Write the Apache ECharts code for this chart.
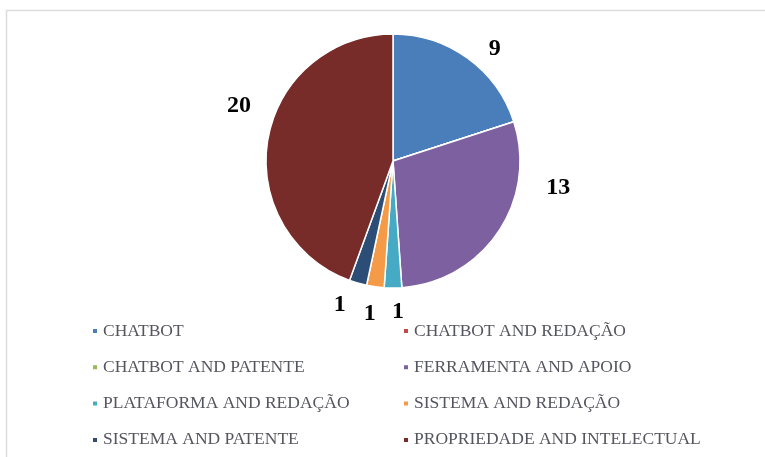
<!DOCTYPE html>
<html>
<head>
<meta charset="utf-8">
<script src="https://cdn.jsdelivr.net/npm/echarts@6/dist/echarts.min.js"></script>
<style>
html,body{margin:0;padding:0;background:#fff;}
#c{width:765px;height:457px;}
</style>
</head>
<body>
<div id="c"></div>
<script>
var categories = ['CHATBOT','CHATBOT AND REDAÇÃO','CHATBOT AND PATENTE','FERRAMENTA AND APOIO','PLATAFORMA AND REDAÇÃO','SISTEMA AND REDAÇÃO','SISTEMA AND PATENTE','PROPRIEDADE AND INTELECTUAL'];
var values = [9, 0, 0, 13, 1, 1, 1, 20];
var colors = ['#4A7EBB','#BE4B48','#98B954','#7D60A0','#46AAC5','#F59A46','#2C4D75','#772C2A'];
var legendLeft = [categories[0], categories[2], categories[4], categories[6]];
var legendRight = [categories[1], categories[3], categories[5], categories[7]];

var chart = echarts.init(document.getElementById('c'));
var data = categories.map(function(n, i){ return {name: n, value: values[i]}; });
var legendCommon = {
  orient: 'vertical', top: 317, height: 200, itemWidth: 6, itemHeight: 6, icon: 'rect', itemGap: 18.3,
  textStyle: {fontFamily: 'Liberation Serif', fontSize: 17.5, color: '#555560', padding: [0,0,0,0]}
};
var labelShift = {0:[9,0],3:[33,-51],4:[-6,12],5:[7,15],6:[-4,10],7:[0,-31]};
chart.setOption({
  animation: false,
  color: colors,
  graphic: [{type:'rect', shape:{x:6.5,y:10.5,width:900,height:600}, style:{fill:'none', stroke:'#dcdcdc', lineWidth:1.5}, silent:true}],
  legend: [
    Object.assign({left: 86, data: legendLeft}, legendCommon),
    Object.assign({left: 397, data: legendRight}, legendCommon)
  ],
  series: [{
    type: 'pie',
    center: [393, 161],
    radius: 127,
    startAngle: 90,
    clockwise: true,
    avoidLabelOverlap: false,
    minAngle: 0,
    data: data,
    itemStyle: {borderColor: '#fff', borderWidth: 1.5},
    label: {
      show: true, position: 'outside',
      formatter: function(p){ return p.value ? String(p.value) : ''; },
      fontFamily: 'Liberation Serif', fontWeight: 'bold', fontSize: 24, color: '#000'
    },
    labelLine: {show: false, length: 12, length2: 0},
    labelLayout: function(p){
      var s = labelShift[p.dataIndex] || [0,0];
      return {dx: s[0], dy: s[1]};
    },
    emphasis: {disabled: true}
  }]
});
</script>
</body>
</html>
